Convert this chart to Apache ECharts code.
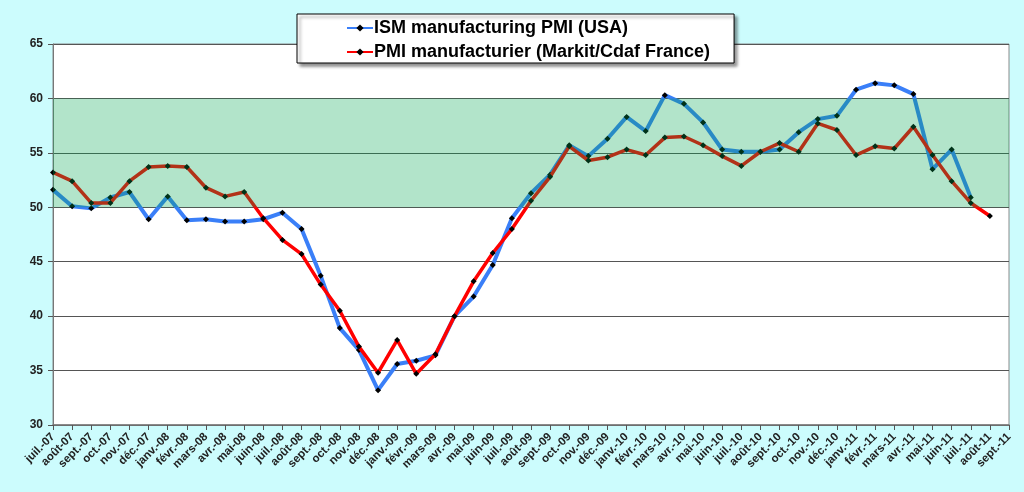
<!DOCTYPE html>
<html lang="fr">
<head>
<meta charset="UTF-8">
<title>PMI manufacturier</title>
<script src="https://cdn.jsdelivr.net/npm/echarts@6/dist/echarts.min.js"></script>
<style>
    html, body { margin: 0; padding: 0; background: #ccfcfd; }
    #container { width: 1024px; height: 492px; }
</style>
</head>
<body>
<div id="container"></div>
<script>
    // mois (axe des x)
    var months = [
        'juil.-07', 'août-07', 'sept.-07', 'oct.-07', 'nov.-07', 'déc.-07',
        'janv.-08', 'févr.-08', 'mars-08', 'avr.-08', 'mai-08', 'juin-08',
        'juil.-08', 'août-08', 'sept.-08', 'oct.-08', 'nov.-08', 'déc.-08',
        'janv.-09', 'févr.-09', 'mars-09', 'avr.-09', 'mai-09', 'juin-09',
        'juil.-09', 'août-09', 'sept.-09', 'oct.-09', 'nov.-09', 'déc.-09',
        'janv.-10', 'févr.-10', 'mars-10', 'avr.-10', 'mai-10', 'juin-10',
        'juil.-10', 'août-10', 'sept.-10', 'oct.-10', 'nov.-10', 'déc.-10',
        'janv.-11', 'févr.-11', 'mars-11', 'avr.-11', 'mai-11', 'juin-11',
        'juil.-11', 'août-11', 'sept.-11'
    ];

    // ISM manufacturing PMI (USA)
    var ismUsa = [
        51.6, 50.1, 49.9, 50.9, 51.4, 48.9,
        51.0, 48.8, 48.9, 48.7, 48.7, 48.9,
        49.5, 48.0, 43.7, 38.9, 36.9, 33.2,
        35.6, 35.9, 36.4, 40.0, 41.8, 44.7,
        49.0, 51.3, 53.0, 55.7, 54.7, 56.3,
        58.3, 57.0, 60.3, 59.5, 57.8, 55.3,
        55.1, 55.1, 55.3, 56.9, 58.1, 58.4,
        60.8, 61.4, 61.2, 60.4, 53.5, 55.3,
        50.9, null, null
    ];

    // PMI manufacturier (Markit/Cdaf France)
    var pmiFrance = [
        53.2, 52.4, 50.4, 50.4, 52.4, 53.7,
        53.8, 53.7, 51.8, 51.0, 51.4, 49.0,
        47.0, 45.7, 42.9, 40.5, 37.2, 34.8,
        37.8, 34.7, 36.5, 40.0, 43.2, 45.8,
        48.0, 50.6, 52.8, 55.6, 54.3, 54.6,
        55.3, 54.8, 56.4, 56.5, 55.7, 54.7,
        53.8, 55.1, 55.9, 55.1, 57.7, 57.1,
        54.8, 55.6, 55.4, 57.4, 54.8, 52.4,
        50.4, 49.2, null
    ];

    var chart = echarts.init(document.getElementById('container'));

    var font = '"Liberation Sans", Arial, sans-serif';

    var option = {
        animation: false,
        backgroundColor: '#ccfcfd',
        legend: {
            data: ['ISM manufacturing PMI (USA)', 'PMI manufacturier (Markit/Cdaf France)'],
            orient: 'vertical',
            left: 297,
            top: 14,
            padding: [5, 24, 2, 49],
            itemGap: 6,
            itemWidth: 26,
            itemHeight: 9,
            backgroundColor: '#fff',
            borderColor: '#000',
            borderWidth: 1,
            shadowColor: 'rgba(0,0,0,0.45)',
            shadowBlur: 3,
            shadowOffsetX: 3,
            shadowOffsetY: 3,
            selectedMode: false,
            textStyle: {
                fontFamily: font,
                fontWeight: 'bold',
                fontSize: 18,
                color: '#000',
                padding: [0, 0, 0, -4]
            }
        },
        grid: {
            left: 53,
            right: 15,
            top: 44,
            bottom: 67,
            show: true,
            backgroundColor: '#fff',
            borderColor: '#8a8a8a',
            borderWidth: 1
        },
        xAxis: {
            type: 'category',
            data: months,
            boundaryGap: false,
            axisLine: { lineStyle: { color: '#777', width: 1.5 } },
            axisTick: { show: true, length: 5, lineStyle: { color: '#555' } },
            axisLabel: {
                interval: 0,
                rotate: 45,
                margin: 10,
                fontFamily: font,
                fontWeight: 'bold',
                fontSize: 11.5,
                color: '#222'
            },
            splitLine: { show: false }
        },
        yAxis: {
            type: 'value',
            min: 30,
            max: 65,
            interval: 5,
            axisLine: { show: true, lineStyle: { color: '#777' } },
            axisTick: { show: true, length: 5, lineStyle: { color: '#555' } },
            axisLabel: {
                margin: 10,
                fontFamily: font,
                fontWeight: 'bold',
                fontSize: 12,
                color: '#222'
            },
            splitLine: { show: true, lineStyle: { color: '#555', width: 1 } }
        },
        series: [
            {
                name: 'ISM manufacturing PMI (USA)',
                type: 'line',
                data: ismUsa,
                symbol: 'diamond',
                symbolSize: 6,
                itemStyle: { color: '#000' },
                lineStyle: { color: '#3a7ff8', width: 4 },
                z: 2
            },
            {
                name: 'PMI manufacturier (Markit/Cdaf France)',
                type: 'line',
                data: pmiFrance,
                symbol: 'diamond',
                symbolSize: 6,
                itemStyle: { color: '#000' },
                lineStyle: { color: '#ff0000', width: 3.5 },
                z: 3
            },
            {
                // bande verte 50-60, posée par-dessus les courbes
                name: 'zone',
                type: 'line',
                data: months.map(function () { return null; }),
                symbol: 'none',
                silent: true,
                z: 10,
                markArea: {
                    silent: true,
                    z: 10,
                    itemStyle: { color: 'rgba(0,165,80,0.3)' },
                    data: [[{ yAxis: 50 }, { yAxis: 60 }]]
                }
            }
        ]
    };

    chart.setOption(option);
</script>
</body>
</html>
